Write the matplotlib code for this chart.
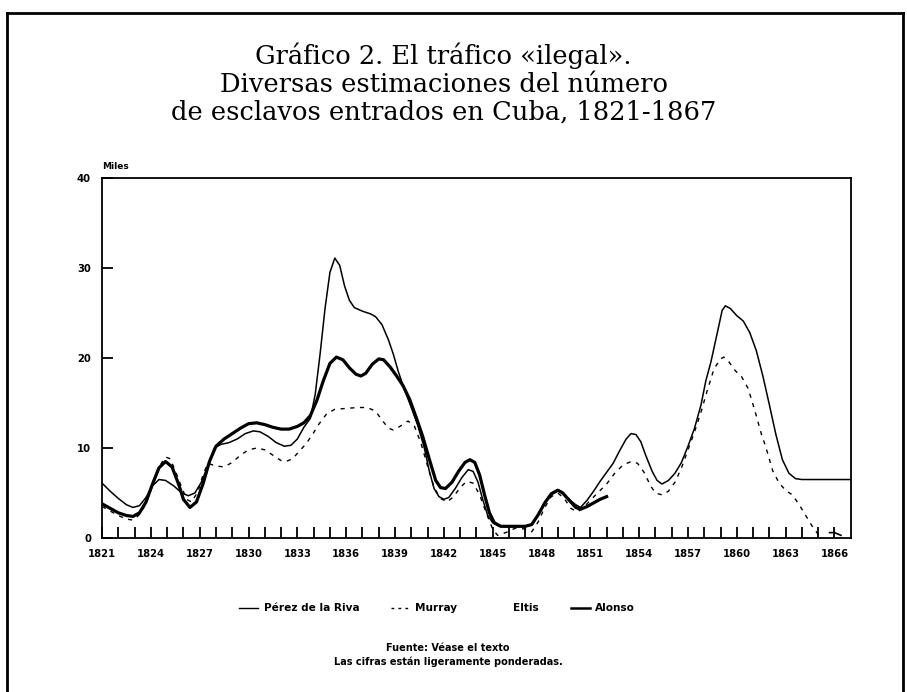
import matplotlib
matplotlib.use("Agg")
import matplotlib.pyplot as plt
from matplotlib.lines import Line2D

# ===== datos (miles de esclavos) =====
perez_years = [1821.0, 1821.5, 1822.0, 1822.5, 1822.9, 1823.3, 1823.7, 1824.1, 1824.5, 1824.9,
               1825.4, 1825.9, 1826.3, 1826.7, 1827.1, 1827.5, 1827.9, 1828.3, 1828.8, 1829.3,
               1829.8, 1830.3, 1830.7, 1831.2, 1831.7, 1832.2, 1832.6, 1833.0, 1833.4, 1833.8,
               1834.1, 1834.4, 1834.7, 1835.0, 1835.3, 1835.6, 1835.9, 1836.2, 1836.5, 1837.0,
               1837.5, 1837.8, 1838.2, 1838.6, 1838.9, 1839.2, 1839.6, 1840.0, 1840.4, 1840.8,
               1841.1, 1841.4, 1841.7, 1842.0, 1842.3, 1842.7, 1843.1, 1843.5, 1843.8, 1844.1,
               1844.4, 1844.7, 1845.0, 1845.4, 1846.0, 1846.5, 1847.0, 1847.4, 1847.8, 1848.2,
               1848.6, 1849.0, 1849.3, 1849.7, 1850.1, 1850.4, 1850.8, 1851.2, 1851.6, 1852.0,
               1852.4, 1852.8, 1853.2, 1853.5, 1853.8, 1854.1, 1854.4, 1854.8, 1855.1, 1855.4,
               1855.8, 1856.2, 1856.6, 1857.0, 1857.4, 1857.8, 1858.1, 1858.4, 1858.8, 1859.1,
               1859.3, 1859.6, 1860.0, 1860.4, 1860.8, 1861.2, 1861.6, 1862.0, 1862.4, 1862.8,
               1863.2, 1863.6, 1864.0, 1865.0, 1866.0, 1867.0]
perez_vals = [6.1, 5.2, 4.4, 3.7, 3.4, 3.6, 4.5, 5.8, 6.5, 6.4,
              5.8, 5.0, 4.7, 5.0, 6.2, 8.0, 10.0, 10.4, 10.6, 11.0,
              11.6, 11.9, 11.8, 11.3, 10.6, 10.2, 10.3, 11.0, 12.3, 13.3,
              16.0, 20.5, 25.5, 29.5, 31.1, 30.3, 28.0, 26.4, 25.6, 25.2,
              24.9, 24.6, 23.7, 22.0, 20.4, 18.5, 16.4, 14.5, 12.5, 10.0,
              7.5, 5.5, 4.6, 4.3, 4.5, 5.5, 6.7, 7.6, 7.4, 6.2,
              4.2, 2.5, 1.7, 1.3, 1.3, 1.3, 1.3, 1.5, 2.6, 4.0,
              5.0, 5.4, 5.1, 4.3, 3.7, 3.4, 4.2, 5.2, 6.3, 7.3,
              8.3, 9.7, 11.0, 11.6, 11.5, 10.7, 9.2, 7.4, 6.4, 6.0,
              6.4, 7.2, 8.4, 10.2, 12.2, 14.8, 17.5, 19.5, 22.8, 25.3,
              25.8, 25.5, 24.7, 24.1, 22.8, 20.8, 18.0, 14.8, 11.5, 8.7,
              7.2, 6.6, 6.5, 6.5, 6.5, 6.5]

murray_years = [1821.0, 1821.5, 1822.0, 1822.5, 1822.9, 1823.3, 1823.7, 1824.1, 1824.5, 1824.9,
                1825.2, 1825.6, 1825.9, 1826.2, 1826.5, 1826.9, 1827.2, 1827.5, 1828.0, 1828.5,
                1829.0, 1829.5, 1830.0, 1830.5, 1831.0, 1831.5, 1832.0, 1832.3, 1832.7, 1833.1,
                1833.5, 1833.9, 1834.3, 1834.8, 1835.3, 1836.0, 1836.7, 1837.3, 1837.8, 1838.2,
                1838.6, 1838.9, 1839.3, 1839.8, 1840.2, 1840.6, 1841.0, 1841.4, 1841.8, 1842.2,
                1842.6, 1843.0, 1843.4, 1843.8, 1844.2, 1844.6, 1845.0, 1845.3, 1845.8, 1846.4,
                1847.0, 1847.4, 1847.8, 1848.2, 1848.6, 1849.0, 1849.4, 1849.8, 1850.2, 1850.6,
                1851.0, 1851.5, 1852.0, 1852.5, 1853.0, 1853.5, 1853.9, 1854.3, 1854.7, 1855.0,
                1855.4, 1855.8, 1856.2, 1856.6, 1857.0, 1857.4, 1857.8, 1858.2, 1858.6, 1859.0,
                1859.2, 1859.5, 1859.9, 1860.3, 1860.7, 1861.1, 1861.5, 1861.8, 1862.2, 1862.6,
                1863.0, 1863.4, 1863.8, 1864.2, 1864.6, 1865.0, 1865.2]
murray_vals = [3.5, 3.0, 2.5, 2.1, 2.0, 2.6, 3.8, 5.8, 7.9, 9.0,
               8.8, 7.0, 5.6, 4.3, 4.0, 5.2, 7.0, 8.3, 8.0, 7.9,
               8.4, 9.2, 9.8, 10.0, 9.8, 9.2, 8.6, 8.5, 8.8, 9.6,
               10.4, 11.4, 12.6, 13.8, 14.3, 14.4, 14.5, 14.5, 14.1, 13.1,
               12.2, 12.0, 12.4, 13.0, 12.4, 10.5, 8.0, 5.6, 4.4, 4.0,
               4.6, 5.6, 6.3, 6.1, 4.8, 2.8, 1.0, 0.3, 0.6, 1.1,
               1.0, 0.7, 1.8, 3.4, 4.6, 5.0, 4.4, 3.3, 2.9, 3.4,
               4.2, 5.1, 6.0, 7.2, 8.1, 8.5, 8.3, 7.3, 5.8, 5.0,
               4.8, 5.2, 6.2, 7.8, 9.8, 11.8, 14.0, 16.5, 18.8, 19.9,
               20.1, 19.6, 18.6, 17.9, 16.6, 14.2, 11.6, 10.0, 7.5, 6.1,
               5.3, 4.8, 3.8, 2.6, 1.4, 0.4, 0.0]

eltis_years = [1865.7, 1866.0, 1866.4]
eltis_vals = [0.6, 0.6, 0.3]

alonso_years = [1821.0, 1821.5, 1822.0, 1822.5, 1822.9, 1823.3, 1823.7, 1824.1, 1824.5, 1824.9,
                1825.3, 1825.7, 1826.0, 1826.4, 1826.8, 1827.2, 1827.6, 1828.0, 1828.5, 1829.0,
                1829.5, 1830.0, 1830.5, 1831.0, 1831.5, 1832.0, 1832.5, 1833.0, 1833.4, 1833.8,
                1834.2, 1834.6, 1835.0, 1835.4, 1835.8, 1836.2, 1836.6, 1836.9, 1837.2, 1837.6,
                1838.0, 1838.3, 1838.7, 1839.1, 1839.5, 1839.9, 1840.3, 1840.7, 1841.1, 1841.5,
                1841.8, 1842.1, 1842.5, 1842.9, 1843.3, 1843.6, 1843.9, 1844.2, 1844.5, 1844.8,
                1845.1, 1845.5, 1846.0, 1846.5, 1847.0, 1847.4, 1847.8, 1848.2, 1848.6, 1849.0,
                1849.3, 1849.7, 1850.1, 1850.4, 1850.8, 1851.2, 1851.6, 1852.0]
alonso_vals = [3.8, 3.3, 2.8, 2.5, 2.4, 2.8, 4.0, 6.0, 7.8, 8.5,
               7.9, 6.0, 4.3, 3.4, 4.0, 6.0, 8.5, 10.2, 11.0, 11.6,
               12.2, 12.7, 12.8, 12.6, 12.3, 12.1, 12.1, 12.4, 12.8, 13.6,
               15.3, 17.5, 19.4, 20.1, 19.8, 18.9, 18.2, 18.0, 18.3, 19.3,
               19.9, 19.8, 19.0, 18.0, 16.9, 15.4, 13.4, 11.3, 8.8, 6.4,
               5.6, 5.5, 6.2, 7.4, 8.4, 8.7, 8.4, 7.0, 4.8, 2.8,
               1.7, 1.3, 1.3, 1.3, 1.3, 1.5, 2.6, 3.9, 4.9, 5.3,
               5.0, 4.2, 3.4, 3.2, 3.5, 3.9, 4.3, 4.6]

tick_years = list(range(1821, 1867, 3))
minor_years = [y for y in range(1822, 1867) if y not in tick_years]
y_ticks = [0, 10, 20, 30, 40]

# ===== figura =====
fig = plt.figure(figsize=(9.07, 6.92), dpi=100)
ax = fig.add_axes([0.1125, 0.2225, 0.8255, 0.5203])

ax.plot(perez_years, perez_vals, color='black', lw=1.1)
ax.plot(murray_years, murray_vals, color='black', lw=1.0, linestyle=(0, (3, 4)))
ax.plot(eltis_years, eltis_vals, color='black', lw=1.2)
ax.plot(alonso_years, alonso_vals, color='black', lw=2.3)

ax.set_xlim(1821, 1867)
ax.set_ylim(0, 40)
ax.set_xticks(tick_years)
ax.set_xticks(minor_years, minor=True)
ax.set_yticks(y_ticks)
ax.tick_params(axis='x', which='both', direction='in', length=8, width=1.3, pad=8)
ax.tick_params(axis='y', direction='in', length=8, width=1.3, pad=8)
for lab in ax.get_xticklabels() + ax.get_yticklabels():
    lab.set_fontsize(7.2)
    lab.set_fontweight('heavy')
for s in ax.spines.values():
    s.set_linewidth(1.3)

ax.text(0.0, 1.02, 'Miles', transform=ax.transAxes, fontsize=6.5,
        fontweight='heavy', ha='left', va='bottom')

# título
title_lines = ['Gráfico 2. El tráfico «ilegal».',
               'Diversas estimaciones del número',
               'de esclavos entrados en Cuba, 1821-1867']
for i, line in enumerate(title_lines):
    fig.text(0.489, 0.919 - 0.0405 * i, line, ha='center', va='center',
             fontsize=18.5, family='DejaVu Serif')

# leyenda
handles = [Line2D([], [], color='black', lw=1.0),
           Line2D([], [], color='black', lw=1.0, linestyle=(0, (2, 3))),
           Line2D([], [], color='white', lw=0),
           Line2D([], [], color='black', lw=1.8)]
labels = ['Pérez de la Riva', 'Murray', 'Eltis', 'Alonso']
fig.legend(handles, labels, loc='center', bbox_to_anchor=(0.482, 0.121), ncol=4,
           frameon=False, handlelength=1.8, columnspacing=3.0, handletextpad=0.5,
           prop={'size': 7.6, 'weight': 'heavy'})

fig.text(0.494, 0.064, 'Fuente: Véase el texto', ha='center', va='center',
         fontsize=7, fontweight='heavy')
fig.text(0.494, 0.044, 'Las cifras están ligeramente ponderadas.', ha='center',
         va='center', fontsize=7, fontweight='heavy')

# marco exterior
fig.add_artist(Line2D([0.008, 0.008], [0.0, 0.981], color='black', lw=2,
                      transform=fig.transFigure))
fig.add_artist(Line2D([0.008, 0.996], [0.981, 0.981], color='black', lw=2,
                      transform=fig.transFigure))
fig.add_artist(Line2D([0.996, 0.996], [0.0, 0.981], color='black', lw=2,
                      transform=fig.transFigure))

fig.savefig('out.png', dpi=100)
